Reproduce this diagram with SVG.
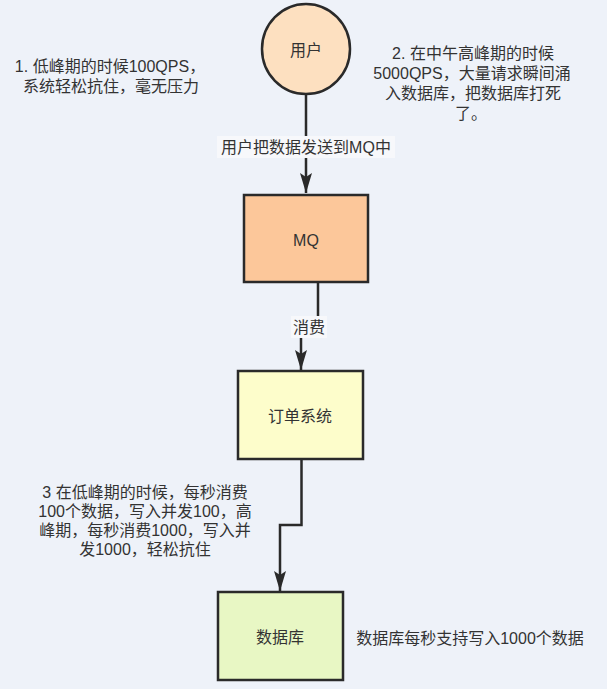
<svg xmlns="http://www.w3.org/2000/svg" width="607" height="689" viewBox="0 0 607 689">
<style>
.t{font-family:"Liberation Sans","Noto Sans CJK SC",sans-serif;font-size:16px;fill:#333;text-anchor:middle;dominant-baseline:central}
.n{stroke:#2a2a2a;stroke-width:2.5}
.c{fill:none;stroke:#2a2a2a;stroke-width:2.5}
.lb{fill:#f7f8fb}
</style>
<defs>
<marker id="arr" markerUnits="userSpaceOnUse" viewBox="0 0 20 12" refX="20" refY="6" markerWidth="20" markerHeight="12" orient="auto">
<path d="M0,0 L20,6 L0,12 L4,6 z" fill="#2a2a2a"/>
</marker>
</defs>
<rect width="607" height="689" fill="#eef2f9"/>
<g id="connectors">
<path class="c" d="M306,94 V193" marker-end="url(#arr)"/>
<path class="c" d="M318,282 V326 H301 V370" marker-end="url(#arr)"/>
<path class="c" d="M301.5,459 V525 H280 V591" marker-end="url(#arr)"/>
<rect class="lb" x="217" y="136" width="178" height="22"/>
<text class="t" x="306" y="147">用户把数据发送到MQ中</text>
<rect class="lb" x="291" y="316" width="36" height="22"/>
<text class="t" x="309" y="327">消费</text>
</g>
<g id="user">
<ellipse class="n" cx="306" cy="49" rx="44" ry="45" fill="#fde0c0"/>
<text class="t" x="306" y="50">用户</text>
</g>
<g id="mq">
<rect class="n" x="244" y="195" width="124" height="87" fill="#fcc79a"/>
<text class="t" x="306" y="240">MQ</text>
</g>
<g id="order">
<rect class="n" x="238" y="371" width="125" height="88" fill="#fdfdcb"/>
<text class="t" x="300" y="416">订单系统</text>
</g>
<g id="db">
<rect class="n" x="218" y="592" width="125" height="88" fill="#e8f7c4"/>
<text class="t" x="280" y="637">数据库</text>
</g>
<g id="notes">
<text class="t" x="110" y="66">1. 低峰期的时候100QPS，</text>
<text class="t" x="111" y="86">系统轻松抗住，毫无压力</text>
<text class="t" x="473" y="53">2. 在中午高峰期的时候</text>
<text class="t" x="472" y="73">5000QPS，大量请求瞬间涌</text>
<text class="t" x="473" y="93">入数据库，把数据库打死</text>
<text class="t" x="471" y="113">了。</text>
<text class="t" x="145" y="492">3 在低峰期的时候，每秒消费</text>
<text class="t" x="145" y="511">100个数据，写入并发100，高</text>
<text class="t" x="145" y="530">峰期，每秒消费1000，写入并</text>
<text class="t" x="145" y="549">发1000，轻松抗住</text>
<text class="t" x="470" y="638">数据库每秒支持写入1000个数据</text>
</g>
</svg>
